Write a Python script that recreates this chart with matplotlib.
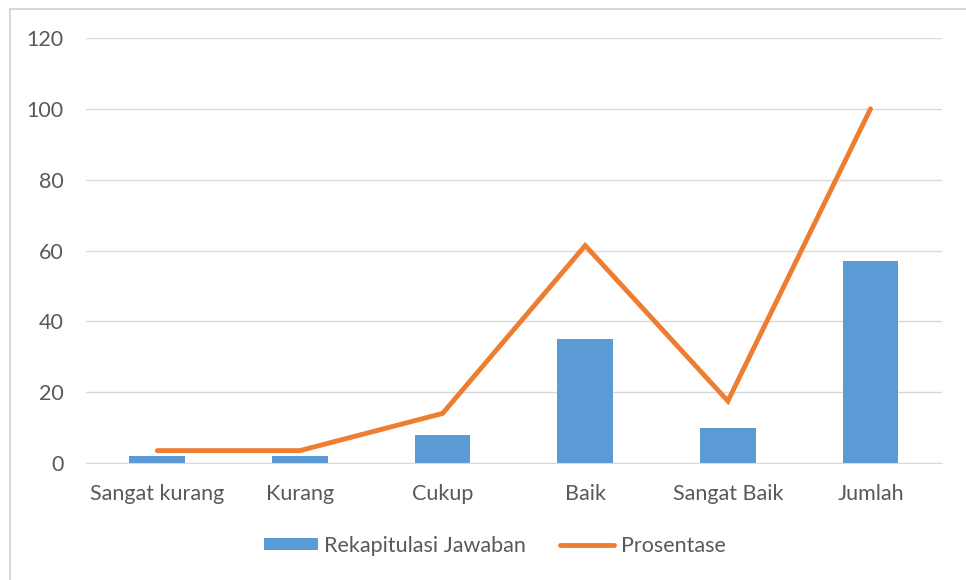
import matplotlib.pyplot as plt
from matplotlib.patches import Rectangle
import numpy as np

categories = ['Sangat kurang', 'Kurang', 'Cukup', 'Baik', 'Sangat Baik', 'Jumlah']
rekap = [2, 2, 8, 35, 10, 57]
prosentase = [3.5, 3.5, 14.0, 61.4, 17.5, 100.0]

plt.rcParams['font.family'] = ['Lato', 'DejaVu Sans']
txt = '#595959'

fig = plt.figure(figsize=(9.66, 5.8), dpi=100)
ax = fig.add_axes([0.089, 0.2017, 0.886, 0.7328])

x = np.arange(len(categories))
bars = ax.bar(x, rekap, 0.39, color='#5B9BD5', label='Rekapitulasi Jawaban', zorder=2)
line, = ax.plot(x, prosentase, color='#ED7D31', lw=3.5, label='Prosentase', zorder=3,
                solid_capstyle='round', solid_joinstyle='miter')

ax.set_xlim(-0.5, 5.5)
ax.set_ylim(0, 120)
ax.set_yticks(range(0, 121, 20))
ax.set_xticks(x)
ax.set_xticklabels(categories)
ax.tick_params(axis='both', length=0, labelsize=15.5, colors=txt)
ax.tick_params(axis='x', pad=15)
ax.tick_params(axis='y', pad=16)
ax.grid(axis='y', color='#D9D9D9', lw=1, zorder=0)
for s in ['top', 'right', 'left']:
    ax.spines[s].set_visible(False)
ax.spines['bottom'].set_color('#D9D9D9')

leg = fig.legend([bars, line], ['Rekapitulasi Jawaban', 'Prosentase'],
                 loc='center', bbox_to_anchor=(0.512, 0.059), ncol=2, frameon=False,
                 fontsize=15.5, handlelength=2.5, handleheight=0.5,
                 columnspacing=1.6, handletextpad=0.3)
for t in leg.get_texts():
    t.set_color(txt)

# outer chart frame (cropped screenshot border)
fig.patches.append(Rectangle((0.0105, -0.05), 1.1, 1.034, transform=fig.transFigure,
                             fill=False, edgecolor='#D9D9D9', lw=1.5))

fig.savefig('out.png', dpi=100)
